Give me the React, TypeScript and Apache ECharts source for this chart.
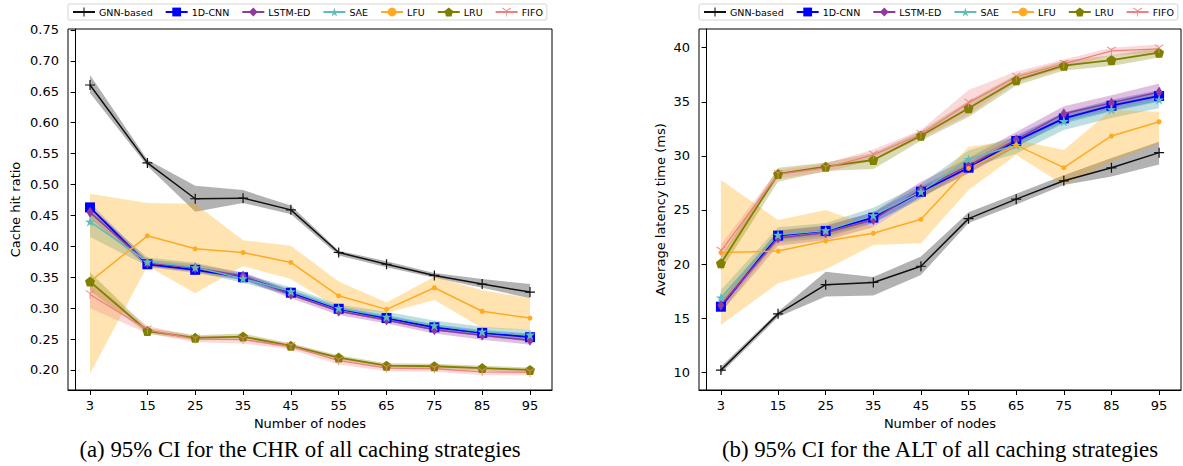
import React, { useEffect, useRef } from "react";
import * as echarts from "echarts";

// ---------- data ----------
const nodes = [3, 15, 25, 35, 45, 55, 65, 75, 85, 95];
const seriesNames = ["GNN-based", "1D-CNN", "LSTM-ED", "SAE", "LFU", "LRU", "FIFO"];
const chrTicks = [0.2, 0.25, 0.3, 0.35, 0.4, 0.45, 0.5, 0.55, 0.6, 0.65, 0.7, 0.75];
const altTicks = [10, 15, 20, 25, 30, 35, 40];

// Cache hit ratio (mean, lower CI, upper CI)
const chrGnn = [0.661, 0.535, 0.477, 0.478, 0.459, 0.390, 0.371, 0.353, 0.339, 0.326];
const chrGnnLo = [0.648, 0.530, 0.456, 0.470, 0.452, 0.385, 0.366, 0.349, 0.333, 0.316];
const chrGnnHi = [0.677, 0.540, 0.498, 0.491, 0.466, 0.393, 0.376, 0.357, 0.347, 0.339];
const chrCnn = [0.463, 0.371, 0.362, 0.350, 0.325, 0.299, 0.284, 0.269, 0.260, 0.253];
const chrCnnLo = [0.455, 0.366, 0.357, 0.345, 0.320, 0.295, 0.279, 0.264, 0.255, 0.247];
const chrCnnHi = [0.471, 0.376, 0.367, 0.355, 0.330, 0.303, 0.289, 0.274, 0.265, 0.259];
const chrLstm = [0.455, 0.373, 0.365, 0.352, 0.322, 0.295, 0.281, 0.265, 0.256, 0.248];
const chrLstmLo = [0.445, 0.367, 0.359, 0.346, 0.316, 0.289, 0.275, 0.259, 0.249, 0.241];
const chrLstmHi = [0.465, 0.379, 0.371, 0.358, 0.328, 0.301, 0.287, 0.271, 0.263, 0.255];
const chrSae = [0.440, 0.375, 0.366, 0.348, 0.327, 0.300, 0.286, 0.272, 0.262, 0.257];
const chrSaeLo = [0.415, 0.368, 0.358, 0.341, 0.320, 0.294, 0.279, 0.264, 0.254, 0.246];
const chrSaeHi = [0.465, 0.382, 0.374, 0.356, 0.334, 0.306, 0.294, 0.280, 0.270, 0.265];
const chrLfu = [0.343, 0.417, 0.396, 0.390, 0.374, 0.320, 0.298, 0.333, 0.295, 0.284];
const chrLfuLo = [0.194, 0.368, 0.324, 0.368, 0.347, 0.300, 0.292, 0.313, 0.268, 0.265];
const chrLfuHi = [0.485, 0.470, 0.469, 0.410, 0.401, 0.343, 0.309, 0.351, 0.329, 0.316];
const chrLru = [0.343, 0.263, 0.252, 0.254, 0.239, 0.220, 0.207, 0.206, 0.203, 0.200];
const chrLruLo = [0.328, 0.259, 0.248, 0.249, 0.235, 0.216, 0.203, 0.202, 0.199, 0.196];
const chrLruHi = [0.358, 0.268, 0.256, 0.259, 0.243, 0.224, 0.211, 0.210, 0.207, 0.204];
const chrFifo = [0.322, 0.265, 0.250, 0.249, 0.238, 0.215, 0.203, 0.202, 0.197, 0.196];
const chrFifoLo = [0.300, 0.259, 0.245, 0.243, 0.233, 0.209, 0.198, 0.197, 0.192, 0.191];
const chrFifoHi = [0.344, 0.271, 0.255, 0.255, 0.243, 0.221, 0.208, 0.207, 0.202, 0.201];

// Average latency time (ms)
const altGnn = [10.2, 15.4, 18.1, 18.3, 19.8, 24.2, 26.0, 27.7, 28.9, 30.3];
const altGnnLo = [9.9, 15.1, 17.0, 17.1, 19.0, 23.8, 25.5, 27.3, 28.1, 29.2];
const altGnnHi = [10.5, 15.6, 19.3, 18.8, 20.7, 24.8, 26.5, 28.2, 29.8, 31.3];
const altCnn = [16.06, 22.63, 23.06, 24.29, 26.69, 28.91, 31.38, 33.47, 34.64, 35.54];
const altCnnLo = [15.6, 22.2, 22.6, 23.8, 26.2, 28.4, 30.9, 33.0, 34.1, 35.0];
const altCnnHi = [16.5, 23.1, 23.5, 24.8, 27.2, 29.4, 31.9, 34.0, 35.2, 36.1];
const altLstm = [16.2, 22.4, 22.9, 24.1, 26.9, 29.1, 31.5, 33.9, 34.9, 35.9];
const altLstmLo = [15.5, 21.7, 22.2, 23.4, 26.2, 28.4, 30.8, 33.2, 34.2, 35.1];
const altLstmHi = [16.9, 23.1, 23.6, 24.8, 27.6, 29.8, 32.2, 34.6, 35.6, 36.7];
const altSae = [16.9, 22.7, 23.1, 24.5, 26.7, 29.7, 31.0, 33.2, 34.3, 35.2];
const altSaeLo = [16.2, 22.0, 22.4, 23.8, 26.0, 28.9, 30.2, 32.4, 33.5, 34.4];
const altSaeHi = [17.6, 23.4, 23.8, 25.2, 27.4, 30.5, 31.8, 34.0, 35.1, 36.0];
const altLfu = [21.06, 21.2, 22.13, 22.85, 24.14, 28.85, 31.0, 28.91, 31.84, 33.16];
const altLfuLo = [14.37, 18.22, 19.5, 21.77, 21.92, 26.85, 30.08, 27.31, 29.47, 31.16];
const altLfuHi = [27.77, 24.08, 25.0, 23.46, 26.2, 30.85, 31.47, 30.55, 34.24, 34.08];
const altLru = [20.07, 28.33, 29.0, 29.62, 31.87, 34.4, 37.0, 38.34, 38.86, 39.54];
const altLruLo = [19.4, 27.6, 28.6, 28.8, 31.4, 33.6, 36.5, 37.9, 38.3, 39.1];
const altLruHi = [20.7, 28.9, 29.4, 30.3, 32.3, 35.1, 37.5, 38.8, 39.3, 40.0];
const altFifo = [21.2, 28.3, 28.9, 30.1, 32.0, 34.9, 37.3, 38.5, 39.7, 39.9];
const altFifoLo = [20.6, 27.9, 28.5, 29.6, 31.6, 33.8, 36.8, 38.1, 39.3, 39.5];
const altFifoHi = [21.8, 28.7, 29.3, 30.6, 32.4, 36.1, 37.8, 38.9, 40.0, 40.3];

// ---------- styles ----------
const PLUS = "path://M4.4,0H5.6V4.4H10V5.6H5.6V10H4.4V5.6H0V4.4H4.4Z";
const THIN_DIAMOND = "path://M3,0L6,5L3,10L0,5Z";
const STAR = "path://M5,0L6.18,3.62L10,3.62L6.91,5.86L8.09,9.47L5,7.24L1.91,9.47L3.09,5.86L0,3.62L3.82,3.62Z";
const PENTAGON = "path://M5,0L10,3.63L8.09,9.51L1.91,9.51L0,3.63Z";
const TRI_DOWN =
  "path://M4.6,5L5.4,5L5.4,10L4.6,10Z M5.2,4.654L4.8,5.346L0.47,2.846L0.87,2.154Z M5.2,5.346L4.8,4.654L9.13,2.154L9.53,2.846Z";

const styles = [
  { color: "#111111", band: "rgba(0,0,0,0.3)", symbol: PLUS, size: 10, width: 1.5 },
  { color: "#0000ff", band: "rgba(0,0,255,0.2)", symbol: "rect", size: 10, width: 1.8 },
  { color: "#8f3a9f", band: "rgba(128,0,128,0.25)", symbol: THIN_DIAMOND, size: [7, 11], width: 1.5 },
  { color: "#5fbcbc", band: "rgba(0,128,128,0.25)", symbol: STAR, size: 10, width: 1.5 },
  { color: "#ffaa22", band: "rgba(255,165,0,0.3)", symbol: "circle", size: 5, width: 1.5 },
  { color: "#808000", band: "rgba(128,128,0,0.3)", symbol: PENTAGON, size: 10, width: 1.8 },
  { color: "#f08080", band: "rgba(240,128,128,0.3)", symbol: TRI_DOWN, size: 9, width: 1.3 },
];

const chrSets = [
  [chrGnn, chrGnnLo, chrGnnHi],
  [chrCnn, chrCnnLo, chrCnnHi],
  [chrLstm, chrLstmLo, chrLstmHi],
  [chrSae, chrSaeLo, chrSaeHi],
  [chrLfu, chrLfuLo, chrLfuHi],
  [chrLru, chrLruLo, chrLruHi],
  [chrFifo, chrFifoLo, chrFifoHi],
];
const altSets = [
  [altGnn, altGnnLo, altGnnHi],
  [altCnn, altCnnLo, altCnnHi],
  [altLstm, altLstmLo, altLstmHi],
  [altSae, altSaeLo, altSaeHi],
  [altLfu, altLfuLo, altLfuHi],
  [altLru, altLruLo, altLruHi],
  [altFifo, altFifoLo, altFifoHi],
];

function bandSeries(idx: number, lo: number[], hi: number[], color: string, name: string) {
  const rows = nodes.map((x, i) => [x, lo[i], hi[i]]);
  return {
    type: "custom",
    name: name + " CI",
    xAxisIndex: idx,
    yAxisIndex: idx,
    silent: true,
    z: 1,
    clip: true,
    data: rows,
    encode: { x: 0, y: [1, 2] },
    renderItem: (params: any, api: any) => {
      if (params.dataIndex !== 0) return null;
      const upper = rows.map((r) => api.coord([r[0], r[2]]));
      const lower = rows.map((r) => api.coord([r[0], r[1]])).reverse();
      return {
        type: "polygon",
        shape: { points: upper.concat(lower) },
        style: { fill: color, stroke: "none" },
      };
    },
  };
}

function lineSeries(idx: number, vals: number[], s: any, name: string) {
  return {
    type: "line",
    name,
    xAxisIndex: idx,
    yAxisIndex: idx,
    z: 3,
    data: nodes.map((x, i) => [x, vals[i]]),
    symbol: s.symbol,
    symbolSize: s.size,
    showSymbol: true,
    lineStyle: { color: s.color, width: s.width },
    itemStyle: { color: s.color },
    emphasis: { disabled: true },
  };
}

const tickFont = { fontFamily: "DejaVu Sans", fontSize: 13, color: "#000" };

function xAxis(idx: number) {
  return {
    type: "value",
    gridIndex: idx,
    min: -1.6,
    max: 99.6,
    name: "Number of nodes",
    nameLocation: "middle",
    nameGap: 26,
    nameTextStyle: { ...tickFont },
    axisLine: { show: true, lineStyle: { color: "#000", width: 1 } },
    axisTick: { show: true, length: 5, customValues: nodes, lineStyle: { color: "#000" } },
    axisLabel: { ...tickFont, margin: 9, customValues: nodes },
    splitLine: { show: false },
  };
}

function yAxis(idx: number, min: number, max: number, ticks: number[], name: string, gap: number, digits: number) {
  return {
    type: "value",
    gridIndex: idx,
    min,
    max,
    name,
    nameLocation: "middle",
    nameGap: gap,
    nameTextStyle: { ...tickFont },
    axisLine: { show: true, lineStyle: { color: "#000", width: 1 } },
    axisTick: { show: true, length: 5, customValues: ticks, lineStyle: { color: "#000" } },
    axisLabel: {
      ...tickFont,
      margin: 9,
      customValues: ticks,
      formatter: (v: number) => v.toFixed(digits),
    },
    splitLine: { show: false },
  };
}

function legend(left: number) {
  return {
    left,
    top: 4,
    orient: "horizontal",
    data: seriesNames,
    itemWidth: 22,
    itemHeight: 11,
    itemGap: 12,
    padding: [3, 4, 3, 4],
    borderColor: "#d4d4d4",
    borderWidth: 1,
    borderRadius: 2,
    textStyle: { fontFamily: "DejaVu Sans", fontSize: 9.5, color: "#000", padding: [0, 0, 0, -1] },
    selectedMode: false,
  };
}

const captionStyle = {
  fontFamily: "Liberation Serif",
  fontSize: 22.8,
  fill: "#000",
  align: "center",
  verticalAlign: "middle",
};

export default function App() {
  const ref = useRef<HTMLDivElement>(null);
  useEffect(() => {
    if (!ref.current) return;
    const chart = echarts.init(ref.current, undefined, { renderer: "svg" });
    const series: any[] = [];
    [chrSets, altSets].forEach((sets, g) => {
      sets.forEach((set, i) => {
        series.push(bandSeries(g, set[1], set[2], styles[i].band, seriesNames[i]));
      });
      sets.forEach((set, i) => {
        series.push(lineSeries(g, set[0], styles[i], seriesNames[i]));
      });
    });
    chart.setOption({
      animation: false,
      backgroundColor: "#fff",
      grid: [
        { left: 68, top: 29, width: 484, height: 361, show: true, borderColor: "#000", borderWidth: 1 },
        { left: 699, top: 29, width: 482, height: 361, show: true, borderColor: "#000", borderWidth: 1 },
      ],
      legend: [legend(68), legend(699)],
      xAxis: [xAxis(0), xAxis(1)],
      yAxis: [
        yAxis(0, 0.1676, 0.7516, chrTicks, "Cache hit ratio", 46, 2),
        yAxis(1, 8.36, 41.73, altTicks, "Average latency time (ms)", 32, 0),
      ],
      series,
      graphic: [
        {
          type: "text",
          x: 300,
          y: 449,
          style: { ...captionStyle, text: "(a) 95% CI for the CHR of all caching strategies" },
        },
        {
          type: "text",
          x: 940,
          y: 449,
          style: { ...captionStyle, text: "(b) 95% CI for the ALT of all caching strategies" },
        },
      ],
    });
    return () => chart.dispose();
  }, []);
  return (
    <div
      ref={ref}
      style={{ position: "absolute", left: 0, top: 0, width: 1183, height: 466, background: "#fff" }}
    />
  );
}
